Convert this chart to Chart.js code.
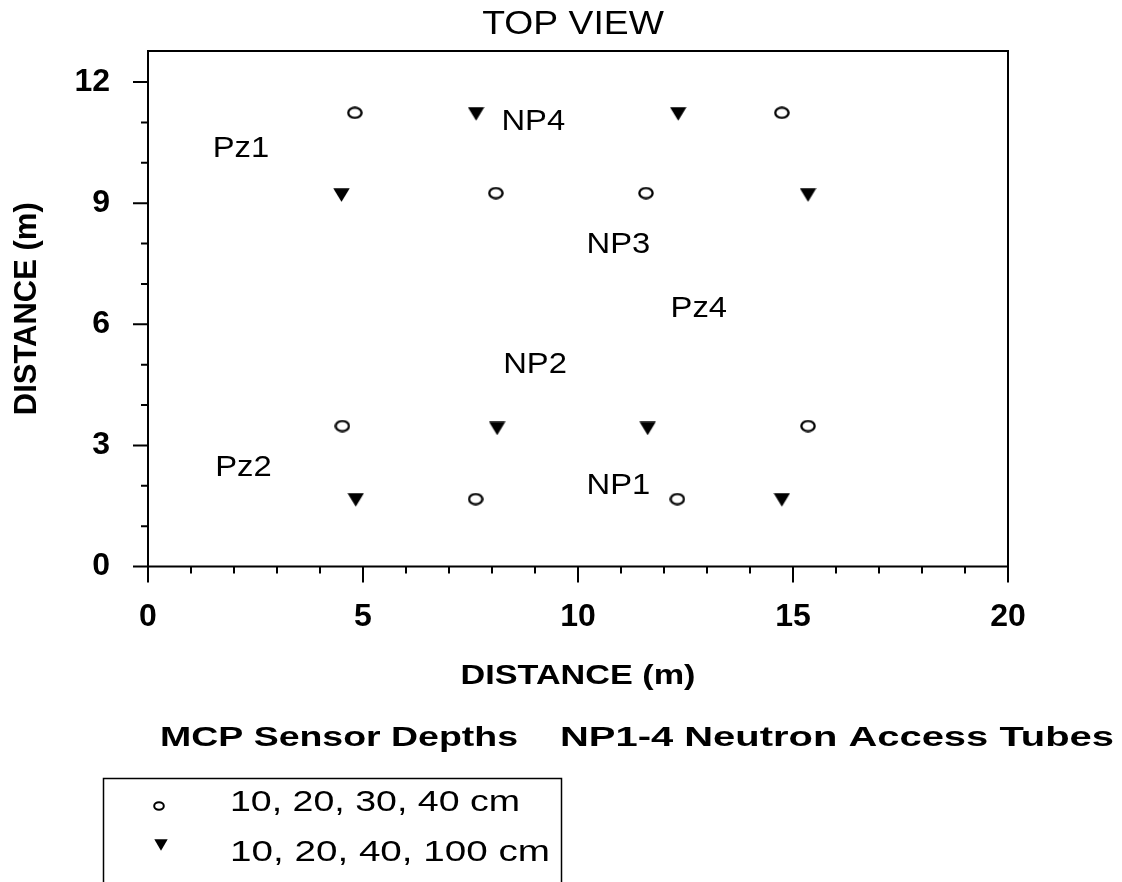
<!DOCTYPE html>
<html><head><meta charset="utf-8">
<script src="https://cdn.jsdelivr.net/npm/chart.js@4.4.0/dist/chart.umd.min.js"></script>
<style>html,body{margin:0;padding:0;background:#fff;overflow:hidden}#wrap{position:relative;width:1122px;height:882px}</style>
</head><body><div id="wrap"><canvas id="c" width="1122" height="882"></canvas></div>
<script>
// MCP sensor locations (open circles)
const mcpX = [4.81, 14.74, 8.09, 11.58, 4.52, 15.35, 7.62, 12.31];
const mcpY = [11.24, 11.24, 9.25, 9.25, 3.48, 3.48, 1.67, 1.67];
// Neutron access tube / sensor locations (filled triangles)
const tubeX = [7.63, 12.33, 4.50, 15.35, 8.12, 11.62, 4.83, 14.74];
const tubeY = [11.21, 11.21, 9.20, 9.20, 3.42, 3.42, 1.65, 1.65];
// site labels
const siteNames = ['Pz1', 'NP4', 'NP3', 'Pz4', 'NP2', 'Pz2', 'NP1'];
const siteX = [2.16, 8.96, 10.94, 12.81, 9.00, 2.22, 10.94];
const siteY = [10.35, 11.00, 7.96, 6.38, 5.00, 2.43, 2.00];
// ticks
const xTickLabels = ['0', '5', '10', '15', '20'];
const yTickLabels = ['0', '3', '6', '9', '12'];
const xMinor = [1,2,3,4,6,7,8,9,11,12,13,14,16,17,18,19];
const yMinor = [1,2,4,5,7,8,10,11];
const legendTexts = ['10, 20, 30, 40 cm', '10, 20, 40, 100 cm'];

function makeCircle(w, h, lw) {
  const c = document.createElement('canvas'); c.width = w; c.height = h;
  const g = c.getContext('2d'); g.lineWidth = lw; g.strokeStyle = '#000';
  g.beginPath(); g.ellipse(w/2, h/2, w/2 - lw/2 - 0.2, h/2 - lw/2 - 0.2, 0, 0, Math.PI*2); g.stroke();
  return c;
}
function makeTri(w, h) {
  const c = document.createElement('canvas'); c.width = w; c.height = h;
  const g = c.getContext('2d'); g.fillStyle = '#000';
  g.beginPath(); g.moveTo(0.3, 0.3); g.lineTo(w - 0.3, 0.3); g.lineTo(w/2, h - 0.3); g.closePath(); g.fill();
  return c;
}
const circImg = makeCircle(16, 13, 2.3);
const triImg = makeTri(17, 14);
const circLeg = makeCircle(12, 10, 2);
const triLeg = makeTri(14, 12);

const FONT = '"Liberation Sans", Arial, sans-serif';

function sText(ctx, str, x, y, font, sx, align) {
  ctx.save();
  ctx.font = font; ctx.textBaseline = 'middle'; ctx.textAlign = align || 'center';
  ctx.fillStyle = '#000';
  ctx.translate(x, y); ctx.scale(sx, 1);
  ctx.fillText(str, 0, 0);
  ctx.restore();
}
function fitText(ctx, str, x, y, font, width, align) {
  ctx.save(); ctx.font = font;
  const w = ctx.measureText(str).width;
  ctx.restore();
  sText(ctx, str, x, y, font, width / w, align || 'left');
}

const deco = {
  id: 'deco',
  afterDraw(chart) {
    const ctx = chart.ctx, a = chart.chartArea;
    const xs = chart.scales.x, ys = chart.scales.y;
    ctx.save();
    ctx.strokeStyle = '#000'; ctx.lineWidth = 2;
    ctx.strokeRect(a.left, a.top, a.right - a.left, a.bottom - a.top);
    ctx.beginPath();
    xTickLabels.forEach(v => { const p = xs.getPixelForValue(+v); ctx.moveTo(p, a.bottom); ctx.lineTo(p, a.bottom + 16); });
    xMinor.forEach(v => { const p = xs.getPixelForValue(v); ctx.moveTo(p, a.bottom); ctx.lineTo(p, a.bottom + 7); });
    yTickLabels.forEach(v => { const p = ys.getPixelForValue(+v); ctx.moveTo(a.left, p); ctx.lineTo(a.left - 15, p); });
    yMinor.forEach(v => { const p = ys.getPixelForValue(v); ctx.moveTo(a.left, p); ctx.lineTo(a.left - 7, p); });
    ctx.stroke();
    ctx.restore();
    siteNames.forEach((n, i) => {
      sText(ctx, n, xs.getPixelForValue(siteX[i]), ys.getPixelForValue(siteY[i]), '29px ' + FONT, 1.13, 'center');
    });
    sText(ctx, 'TOP VIEW', 573, 25, '33px ' + FONT, 1.13, 'center');
    fitText(ctx, 'DISTANCE (m)', (a.left + a.right) / 2, 676, 'bold 28px ' + FONT, 235, 'center');
    fitText(ctx, 'MCP Sensor Depths', 160, 739, 'bold 27px ' + FONT, 358);
    fitText(ctx, 'NP1-4 Neutron Access Tubes', 560, 739, 'bold 27px ' + FONT, 554);
    ctx.save(); ctx.strokeStyle = '#000'; ctx.lineWidth = 1.5;
    ctx.strokeRect(103.5, 778.5, 458, 200); ctx.restore();
    ctx.drawImage(circLeg, 159 - circLeg.width/2, 806 - circLeg.height/2);
    ctx.drawImage(triLeg, 161 - triLeg.width/2, 845 - triLeg.height/2);
    fitText(ctx, legendTexts[0], 230, 803, '30px ' + FONT, 290);
    fitText(ctx, legendTexts[1], 230, 853, '30px ' + FONT, 320);
  }
};

const chart = new Chart(document.getElementById('c'), {
  type: 'scatter',
  data: {
    datasets: [
      { label: 'MCP', data: mcpX.map((x, i) => ({x, y: mcpY[i]})), pointStyle: circImg, pointRadius: 8, pointHoverRadius: 8 },
      { label: 'Tubes', data: tubeX.map((x, i) => ({x, y: tubeY[i]})), pointStyle: triImg, pointRadius: 8, pointHoverRadius: 8 }
    ]
  },
  options: {
    responsive: false, animation: false, devicePixelRatio: 1,
    layout: { padding: { left: 0, top: 51, right: 114, bottom: 0 } },
    plugins: { legend: { display: false }, tooltip: { enabled: false } },
    scales: {
      x: {
        type: 'linear', min: 0, max: 20,
        grid: { display: false, drawTicks: false }, border: { display: false },
        ticks: { stepSize: 5, includeBounds: false, autoSkip: false, maxRotation: 0, color: '#000', padding: 31,
          font: { family: FONT, size: 32, weight: 'bold' },
          callback: v => xTickLabels[xTickLabels.indexOf(String(v))] ?? '' },
        title: { display: false },
        afterFit: s => { s.height = 882 - 566.5; }
      },
      y: {
        type: 'linear', min: 0, max: 12.77,
        grid: { display: false, drawTicks: false }, border: { display: false },
        ticks: { stepSize: 3, includeBounds: false, autoSkip: false, color: '#000', padding: 38,
          font: { family: FONT, size: 32, weight: 'bold' },
          callback: v => yTickLabels[yTickLabels.indexOf(String(v))] ?? '' },
        title: { display: true, text: 'DISTANCE (m)', color: '#000', font: { family: FONT, size: 31, weight: 'bold' }, padding: { top: 9, bottom: 0 } },
        afterFit: s => { s.width = 148; s.paddingTop = 0; s.paddingBottom = 0; }
      }
    }
  },
  plugins: [deco]
});
</script></body></html>
